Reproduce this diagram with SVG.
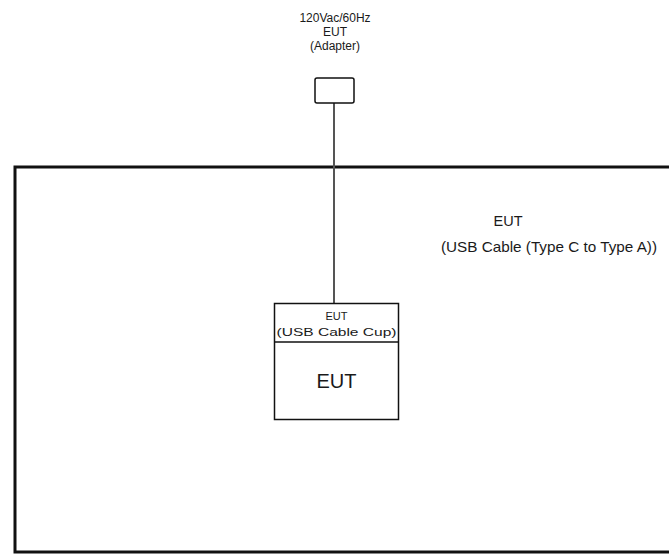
<svg xmlns="http://www.w3.org/2000/svg" width="669" height="557" viewBox="0 0 669 557">
<style>
text{font-family:"Liberation Sans",Arial,sans-serif;fill:#1a1a1a;text-anchor:middle}
.box{fill:#fff;stroke:#111;stroke-width:1.5}
</style>
<rect width="669" height="557" fill="#fff"/>
<g id="eut-cable">
<rect x="15" y="167" width="670" height="385" fill="#fff" stroke="#111" stroke-width="3"/>
<text x="508" y="226" font-size="14.5">EUT</text>
<text x="549" y="252" font-size="14.5" textLength="216" lengthAdjust="spacingAndGlyphs">(USB Cable (Type C to Type A))</text>
</g>
<g id="connectors">
<line x1="334" y1="103" x2="334" y2="303" stroke="#555" stroke-width="2"/>
</g>
<g id="adapter">
<text x="335" y="22" font-size="12">120Vac/60Hz</text>
<text x="335" y="36" font-size="12">EUT</text>
<text x="335" y="50" font-size="12">(Adapter)</text>
<rect class="box" x="315" y="78" width="39" height="25" rx="2" stroke="#333"/>
</g>
<g id="cup">
<rect class="box" x="274.5" y="303.5" width="124" height="116"/>
<line x1="274.5" y1="342" x2="398.5" y2="342" stroke="#111" stroke-width="1.5"/>
<text x="336.5" y="320" font-size="11">EUT</text>
<text x="336.5" y="336" font-size="11" textLength="120" lengthAdjust="spacingAndGlyphs">(USB Cable Cup)</text>
<text x="336.5" y="388" font-size="20">EUT</text>
</g>
</svg>
